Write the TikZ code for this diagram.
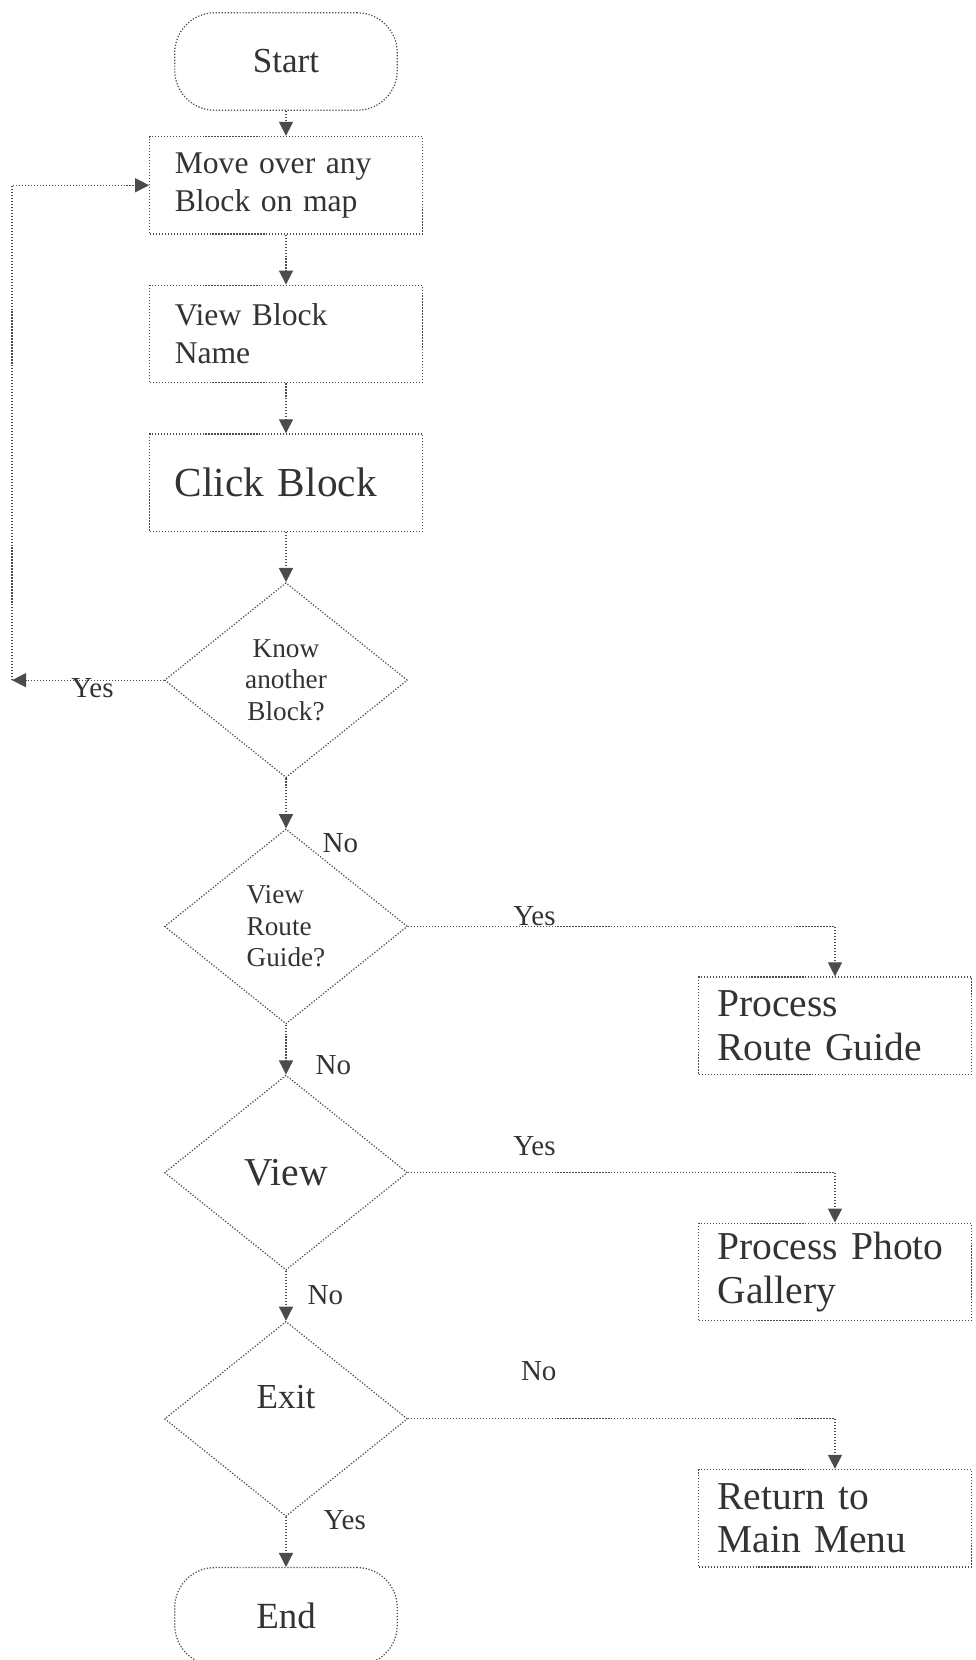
\documentclass[tikz,border=0pt]{standalone}
\usepackage{fontspec}
\setmainfont{Liberation Serif}
\usetikzlibrary{shapes.geometric, arrows.meta, positioning}
\definecolor{scangray}{gray}{0.3}

\begin{document}
\begin{tikzpicture}[node distance=1cm,
    every node/.append style={text=black!80},
    term/.style={rectangle, draw=scangray, line width=0.7pt, densely dotted, rounded corners=0.8cm, minimum width=4.45cm, minimum height=1.95cm, font=\fontsize{20}{24}\selectfont},
    block/.style={rectangle, draw=scangray, line width=0.7pt, densely dotted, text width=4.45cm, inner xsep=0.5cm, minimum height=1.95cm, align=left, font=\fontsize{18}{21.5}\selectfont},
    sideblock/.style={block, text width=4.7cm, inner xsep=0.375cm, font=\fontsize{22.5}{25}\selectfont},
    decision/.style={diamond, draw=scangray, line width=0.7pt, densely dotted, minimum width=4.86cm, minimum height=3.9cm, inner sep=0pt, align=center, font=\fontsize{15.5}{18}\selectfont},
    lbl/.style={inner sep=0pt, font=\fontsize{16.5}{18}\selectfont},
    line/.style={draw=scangray, line width=0.7pt, densely dotted, -{Triangle[width=8pt, length=8pt]}}]
    \useasboundingbox (0,0) rectangle (19.5,-33.2);

    \node [term] (start) at (5.72,-1.23) {Start};
    \node [block, below=0.5cm of start] (move) {Move over any\\Block on map};
    \node [block, below=of move] (name) {View Block\\Name};
    \node [block, below=of name, font=\fontsize{23.5}{26}\selectfont] (click) {Click Block};
    \node [decision, below=of click] (know) {Know\\another\\Block?};
    \node [decision, below=of know, align=left] (guide) {View\\Route\\Guide?};
    \node [decision, below=of guide, font=\fontsize{22.5}{26}\selectfont] (view) {View};
    \node [decision, below=of view, font=\fontsize{20}{24}\selectfont] (exit) {\raisebox{0.88cm}{Exit}};
    \node [term, below=of exit, font=\fontsize{21}{24}\selectfont] (end) {End};

    \node [sideblock, below right=1cm and 5.8cm of guide.east] (rguide) {Process\\Route Guide};
    \node [sideblock, below right=1cm and 5.8cm of view.east] (gallery) {Process Photo\\Gallery};
    \node [sideblock, below right=1cm and 5.8cm of exit.east] (menu) {Return to\\Main Menu};

    \coordinate (back) at (0.24,0 |- know.west);

    \path [line] (start) -- (move);
    \path [line] (move) -- (name);
    \path [line] (name) -- (click);
    \path [line] (click) -- (know);
    \path [line] (know) -- node [lbl, pos=1.29, right=0.72cm] {No} (guide);
    \path [line] (guide) -- node [lbl, pos=0.82, right=0.58cm] {No} (view);
    \path [line] (view) -- node [lbl, pos=0.49, right=0.42cm] {No} (exit);
    \path [line] (exit) -- node [lbl, pos=0.06, right=0.74cm] {Yes} (end);
    \path [line] (know.west) -- node [lbl, pos=0.47, yshift=-0.15cm] {Yes} (back);
    \path [line] (back) |- (move.west);
    \path [line] (guide.east) -| node [lbl, pos=0.148, above] {Yes} (rguide.north);
    \path [line] (view.east) -| node [lbl, pos=0.148, above=0.32cm] {Yes} (gallery.north);
    \path [line] (exit.east) -| node [lbl, pos=0.153, above=0.74cm] {No} (menu.north);
\end{tikzpicture}
\end{document}
